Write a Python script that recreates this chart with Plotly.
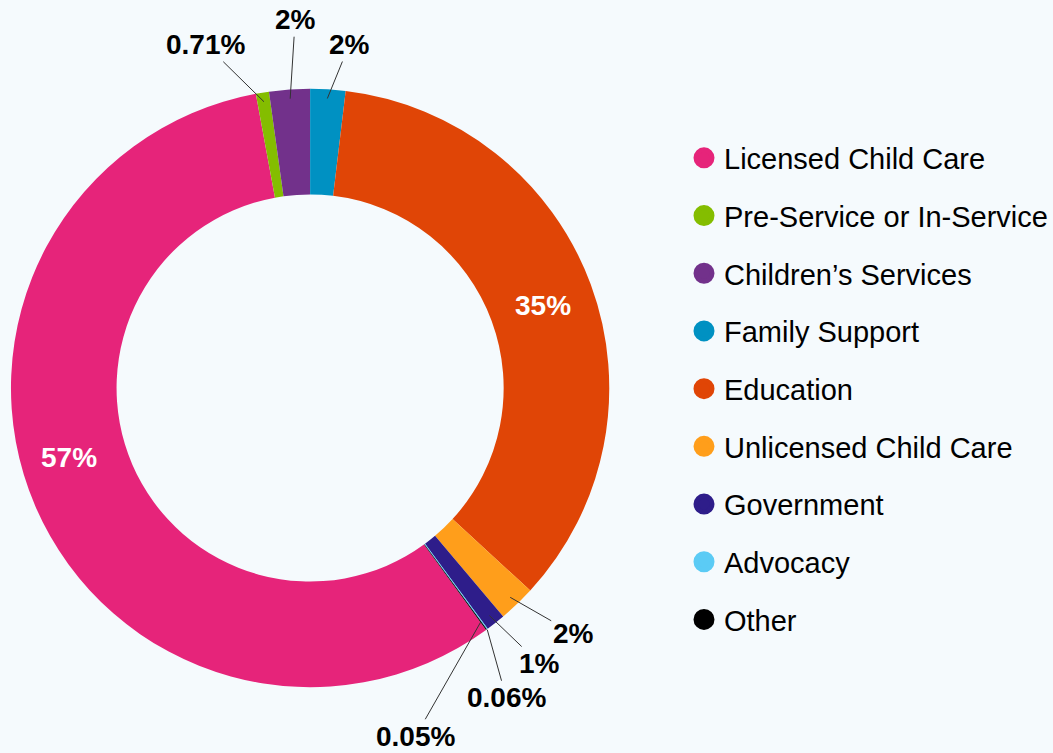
import math
import plotly.graph_objects as go

# ---------------- data ----------------
categories = ["Licensed Child Care", "Pre-Service or In-Service", "Children\u2019s Services",
              "Family Support", "Education", "Unlicensed Child Care", "Government",
              "Advocacy", "Other"]
shares = [57.2, 0.71, 2.2, 1.9, 35.0, 2.0, 1.05, 0.06, 0.05]
colors = ["#E6247A", "#84BD00", "#72318B", "#0091C2", "#E04506",
          "#FF9E1B", "#2E1D8A", "#5BCBF5", "#000000"]

# ---------------- layout constants ----------------
W, H = 1053, 753
BG = "#F5FAFD"
CX, CY, R = 311, 388, 300          # pie centre / radius in pixels
HOLE = 0.647
FONT = "Liberation Sans, Arial, sans-serif"
LABEL_SIZE = 28

# outside labels: text centre offset from leader-line head (px), head radius (px)
outside_style = {
    "Pre-Service or In-Service": (-58, -57, 290),
    "Children\u2019s Services": (5, -79, 290),
    "Family Support": (22, -54, 290),
    "Unlicensed Child Care": (63, 36, 290),
    "Government": (50, 48, 290),
    "Advocacy": (19, 68, 300),
    "Other": (-65, 114, 290),
}
# inside labels: shift from the ring-centre point at the slice mid angle (px)
inside_style = {
    "Licensed Child Care": (-15, -28),
    "Education": (2, 3),
}


def fmt(v):
    return f"{v:.0f}%" if v >= 1 else f"{v:.2f}%"


total = sum(shares)
# first slice (Licensed) starts after the slices that follow it (they begin at 12 o'clock)
rotation = 360.0 * sum(shares[3:]) / total

fig = go.Figure()
fig.add_trace(go.Pie(
    labels=categories,
    values=shares,
    sort=False,
    direction="clockwise",
    rotation=rotation,
    hole=HOLE,
    marker=dict(colors=colors, line=dict(width=0)),
    textinfo="none",
    showlegend=False,
    automargin=False,
    domain=dict(x=[(CX - R) / W, (CX + R) / W], y=[1 - (CY + R) / H, 1 - (CY - R) / H]),
    hoverinfo="label+percent",
))

# legend entries (circle markers)
for name, col in zip(categories, colors):
    fig.add_trace(go.Scatter(
        x=[None], y=[None], mode="markers", name=name,
        marker=dict(size=16, color=col, line=dict(color=col, width=5)),
        legendgroup=name, showlegend=True, hoverinfo="skip",
    ))

# value labels, positioned from the data angles
annotations = []
cum = 0.0
r_mid = R * (1 + HOLE) / 2
for name, v in zip(categories, shares):
    start = rotation + 360.0 * cum / total
    cum += v
    mid = math.radians(start + 180.0 * v / total)
    if name in outside_style:
        ax, ay, rr = outside_style[name]
        hx = CX + rr * math.sin(mid)
        hy = CY - rr * math.cos(mid)
        annotations.append(dict(
            x=hx / W, y=1 - hy / H, xref="paper", yref="paper",
            text=fmt(v), showarrow=True, arrowhead=0, arrowwidth=1,
            arrowcolor="#333333", ax=ax, ay=ay, standoff=0,
            font=dict(family=FONT, size=LABEL_SIZE, color="black", weight="bold"),
        ))
    elif name in inside_style:
        dx, dy = inside_style[name]
        px = CX + r_mid * math.sin(mid) + dx
        py = CY - r_mid * math.cos(mid) + dy
        annotations.append(dict(
            x=px / W, y=1 - py / H, xref="paper", yref="paper",
            text=fmt(v), showarrow=False, xanchor="center", yanchor="middle",
            font=dict(family=FONT, size=LABEL_SIZE, color="white", weight="bold"),
        ))

fig.update_layout(
    width=W, height=H,
    margin=dict(l=0, r=0, t=0, b=0),
    paper_bgcolor=BG, plot_bgcolor=BG,
    xaxis=dict(visible=False), yaxis=dict(visible=False),
    annotations=annotations,
    legend=dict(
        x=686 / W, xanchor="left", y=1 - 389 / H, yanchor="middle",
        font=dict(family=FONT, size=29, color="black"),
        traceorder="grouped", tracegroupgap=17,
        bgcolor="rgba(0,0,0,0)",
    ),
)

fig.write_html("out.html")
